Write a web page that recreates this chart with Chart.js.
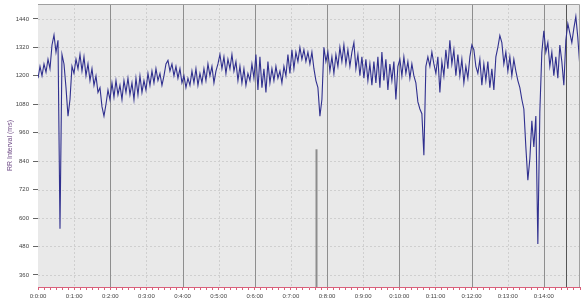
<!DOCTYPE html>
<html>
<head>
<meta charset="utf-8">
<script src="https://cdn.jsdelivr.net/npm/chart.js@4"></script>
<style>
html,body{margin:0;padding:0;background:#fff;}
canvas{display:block;}
</style>
</head>
<body>
<canvas id="c" width="584" height="301"></canvas>
<script>
// RR interval values (ms), one sample every ~3.32 s
const rrValues = [
1190,1240,1200,1250,1215,1270,1230,1330,1372,1300,1350,555,1290,1250,1150,1030,1100,1240,1210,1270,
1230,1290,1220,1280,1200,1250,1180,1230,1160,1200,1130,1150,1070,1030,1080,1140,1100,1170,1110,1180,
1120,1160,1100,1180,1130,1190,1120,1170,1100,1190,1120,1200,1130,1180,1140,1210,1160,1220,1170,1230,
1180,1210,1160,1200,1250,1265,1220,1250,1200,1240,1190,1230,1170,1200,1150,1190,1160,1220,1170,1230,
1160,1210,1170,1230,1180,1250,1200,1240,1170,1220,1250,1290,1230,1280,1210,1270,1230,1290,1220,1260,
1180,1240,1170,1230,1160,1210,1180,1250,1190,1290,1140,1280,1150,1230,1130,1260,1170,1230,1180,1240,
1190,1220,1170,1240,1200,1290,1210,1310,1230,1300,1260,1320,1270,1310,1260,1300,1250,1300,1230,1180,
1150,1030,1100,1320,1260,1300,1220,1280,1210,1290,1240,1320,1260,1330,1250,1310,1240,1300,1340,1230,
1290,1200,1280,1190,1270,1180,1250,1160,1260,1170,1280,1150,1300,1180,1270,1140,1250,1180,1260,1100,
1240,1270,1200,1280,1210,1260,1190,1250,1200,1170,1090,1060,1040,865,1240,1280,1240,1300,1250,1210,
1280,1130,1260,1200,1310,1230,1350,1250,1310,1200,1290,1200,1270,1170,1240,1190,1280,1330,1310,1240,
1210,1270,1160,1250,1180,1260,1150,1230,1140,1280,1320,1370,1340,1250,1300,1220,1280,1200,1270,1220,
1180,1150,1100,1060,900,760,850,1010,900,1030,490,1050,1300,1390,1300,1340,1240,1300,1200,1280,
1190,1330,1260,1160,1350,1420,1380,1340,1400,1450,1360,1240
];
const sampleStepSeconds = 3.32;
const timeSeconds = rrValues.map((_, i) => i * sampleStepSeconds);

// axis ticks
const yTickValues = [360, 480, 600, 720, 840, 960, 1080, 1200, 1320, 1440];
const xMajorSeconds = [0, 60, 120, 180, 240, 300, 360, 420, 480, 540, 600, 660, 720, 780, 840];

// event markers: time (s), top value of marker line
const markerTimes = [461, 876];
const markerTopValues = [890, 1503];
const markerColors = ['#8c8c8c', '#555555'];

function fmtTime(s) {
  const m = Math.floor(s / 60);
  return '0:' + m + ':00';
}

const bgPlugin = {
  id: 'bg',
  beforeDatasetsDraw(chart) {
    const {ctx, chartArea: a, scales: {x, y}} = chart;
    ctx.save();
    ctx.fillStyle = '#e9e9e9';
    ctx.fillRect(a.left, a.top, a.right - a.left, a.bottom - a.top);
    ctx.lineWidth = 1;
    ctx.strokeStyle = '#cfcfcf';
    ctx.setLineDash([2, 2]);
    yTickValues.forEach(v => {
      const py = Math.round(y.getPixelForValue(v)) + 0.5;
      ctx.beginPath(); ctx.moveTo(a.left, py); ctx.lineTo(a.right, py); ctx.stroke();
    });
    xMajorSeconds.forEach(s => {
      if (s === 0) return;
      const px = Math.round(x.getPixelForValue(s)) + 0.5;
      if (s % 120 === 0) {
        ctx.setLineDash([]);
        ctx.strokeStyle = '#8e8e8e';
      } else {
        ctx.setLineDash([2, 2]);
        ctx.strokeStyle = '#cfcfcf';
      }
      ctx.beginPath(); ctx.moveTo(px, a.top); ctx.lineTo(px, a.bottom); ctx.stroke();
    });
    ctx.setLineDash([]);
    markerTimes.forEach((t, i) => {
      const px = Math.round(x.getPixelForValue(t)) + 0.5;
      const top = Math.max(a.top, y.getPixelForValue(markerTopValues[i]));
      ctx.strokeStyle = markerColors[i];
      ctx.lineWidth = i === 0 ? 2 : 1;
      ctx.beginPath(); ctx.moveTo(px, top); ctx.lineTo(px, a.bottom); ctx.stroke();
    });
    ctx.restore();
  },
  afterDraw(chart) {
    const {ctx, chartArea: a} = chart;
    ctx.save();
    ctx.strokeStyle = '#a0a0a0';
    ctx.lineWidth = 1;
    ctx.beginPath();
    ctx.moveTo(a.left, a.top + 0.5); ctx.lineTo(a.right - 0.5, a.top + 0.5); ctx.lineTo(a.right - 0.5, a.bottom);
    ctx.stroke();
    ctx.restore();
  }
};

new Chart(document.getElementById('c'), {
  type: 'line',
  data: {
    datasets: [{
      data: rrValues.map((v, i) => ({x: timeSeconds[i], y: v})),
      borderColor: '#30308f',
      borderWidth: 1.1,
      pointRadius: 0,
      pointHoverRadius: 0,
      pointHitRadius: 0,
      tension: 0,
      fill: false
    }]
  },
  options: {
    responsive: false,
    animation: false,
    devicePixelRatio: 1,
    layout: {autoPadding: false, padding: {top: 4, right: 4, left: 0, bottom: 0}},
    plugins: {legend: {display: false}, tooltip: {enabled: false}},
    scales: {
      x: {
        type: 'linear',
        min: 0,
        max: 900,
        afterFit(s) { s.height = 14; s.paddingLeft = 0; s.paddingRight = 0; },
        ticks: {
          stepSize: 10,
          autoSkip: false,
          maxRotation: 0,
          padding: 3,
          color: '#444',
          font: {family: 'Liberation Sans, Arial', size: 6},
          callback: v => (v % 60 === 0 && v < 900) ? fmtTime(v) : ''
        },
        grid: {drawOnChartArea: false, drawTicks: true, tickLength: 3, tickColor: '#d9607a'},
        border: {color: '#d9607a', width: 1}
      },
      y: {
        type: 'linear',
        min: 309,
        max: 1503,
        afterFit(s) { s.width = 38; s.paddingTop = 0; s.paddingBottom = 0; },
        afterBuildTicks(s) { s.ticks = yTickValues.map(v => ({value: v})); },
        ticks: {
          padding: 4,
          color: '#444',
          font: {family: 'Liberation Sans, Arial', size: 6},
          callback: v => String(v)
        },
        grid: {drawOnChartArea: false, drawTicks: true, tickLength: 5, tickColor: '#666'},
        border: {color: '#d9607a', width: 1},
        title: {
          display: true,
          text: 'RR Interval (ms)',
          color: '#6e4a86',
          padding: {top: 6, bottom: 0},
          font: {family: 'Liberation Sans, Arial', size: 7}
        }
      }
    }
  },
  plugins: [bgPlugin]
});
</script>
</body>
</html>
